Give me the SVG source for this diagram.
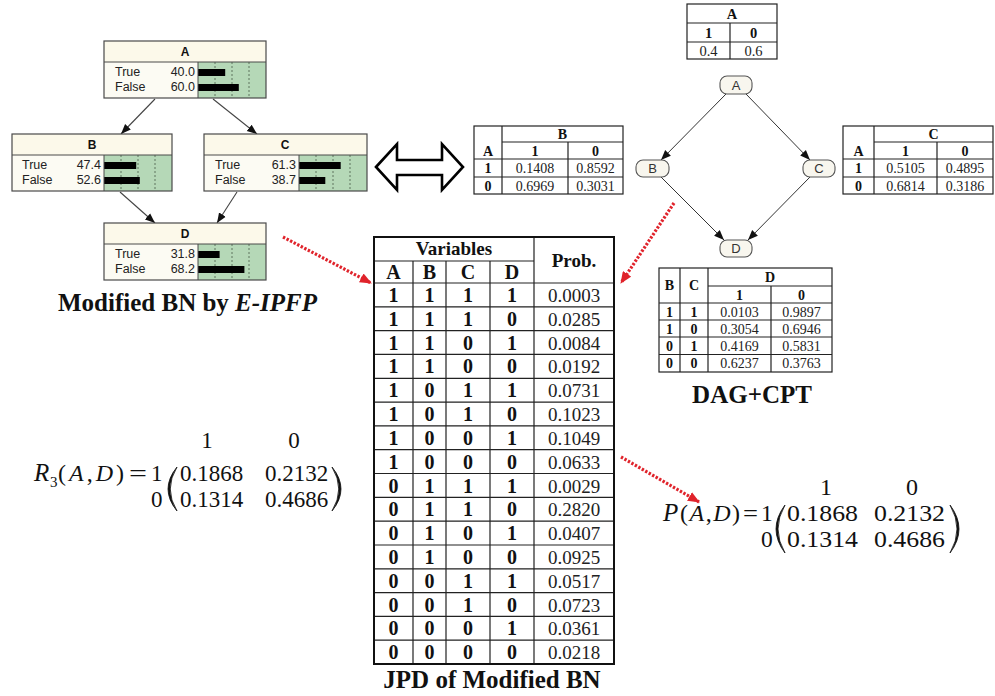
<svg xmlns="http://www.w3.org/2000/svg" width="995" height="696" viewBox="0 0 995 696">
  <style>
    .sans{font-family:"Liberation Sans",Arial,sans-serif}
    .serif{font-family:"Liberation Serif","Times New Roman",serif}
    .nodeHdr{fill:#fcf9ea}
    .nodeBody{fill:#fcfbf3}
    .nodeGreen{fill:#b5d8b7}
    .nodeFrame{fill:none;stroke:#4a4a4a;stroke-width:1.2}
    .tick{stroke:#3a4a3a;stroke-width:1;stroke-dasharray:2 2;opacity:.7}
    .bar{fill:#000}
    .lbl{font-size:12.5px;fill:#222}
    .num{font-size:12.5px;fill:#222;text-anchor:end}
    .ttl{font-size:12px;font-weight:bold;fill:#111;text-anchor:middle}
    .bnEdge{stroke:#444;stroke-width:1.1;fill:none}
    .dagEdge{stroke:#333;stroke-width:1;fill:none}
    .dagNode{fill:#f8f6ee;stroke:#555;stroke-width:1.1}
    .dagTxt{font-size:13px;fill:#333;text-anchor:middle}
    .grid{fill:none;stroke:#222;stroke-width:1.2}
    .outer{fill:none;stroke:#111;stroke-width:2}
    .cb{font-weight:bold;fill:#111;text-anchor:middle}
    .cv{fill:#222;text-anchor:middle}
    .redLink{stroke:#e0232b;stroke-width:3.2;stroke-dasharray:2.4 1.6;fill:none}
    .caption{font-size:25px;font-weight:bold;fill:#111}
    .math{fill:#111}
  </style>
  <defs>
    <marker id="blackHead" viewBox="0 0 10 10" refX="10" refY="5" markerWidth="10" markerHeight="10" markerUnits="userSpaceOnUse" orient="auto">
      <path d="M0,1 L10,5 L0,9 z" fill="#111"/>
    </marker>
    <marker id="redHead" viewBox="0 0 12 10" refX="11" refY="5" markerWidth="12" markerHeight="10" markerUnits="userSpaceOnUse" orient="auto">
      <path d="M0,0 L12,5 L0,10 z" fill="#e0232b"/>
    </marker>
  </defs>

  <rect x="0" y="0" width="995" height="696" fill="#ffffff"/>

  <!-- Belief network (Netica style) -->
  <g id="connectors-bn">
    <line class="bnEdge" x1="155" y1="99" x2="121" y2="134" marker-end="url(#blackHead)"/>
    <line class="bnEdge" x1="213" y1="99" x2="257" y2="134" marker-end="url(#blackHead)"/>
    <line class="bnEdge" x1="120" y1="192" x2="155" y2="223" marker-end="url(#blackHead)"/>
    <line class="bnEdge" x1="237" y1="192" x2="217" y2="223" marker-end="url(#blackHead)"/>
  </g>

  <g id="bn-A" class="sans">
    <rect class="nodeHdr" x="104" y="41" width="162" height="21"/>
    <rect class="nodeBody" x="104" y="62" width="94" height="36"/>
    <rect class="nodeGreen" x="198" y="62" width="68" height="36"/>
    <path class="tick" d="M215,62V98M232,62V98M249,62V98"/>
    <rect class="bar" x="198" y="69" width="27.2" height="7"/>
    <rect class="bar" x="198" y="84" width="40.8" height="7"/>
    <line x1="104" y1="62" x2="266" y2="62" stroke="#4a4a4a" stroke-width="1"/>
    <line x1="198" y1="62" x2="198" y2="98" stroke="#4a4a4a" stroke-width="1"/>
    <rect class="nodeFrame" x="104" y="41" width="162" height="57"/>
    <text class="ttl" x="185" y="56">A</text>
    <text class="lbl" x="115" y="76">True</text><text class="num" x="195" y="76">40.0</text>
    <text class="lbl" x="115" y="91">False</text><text class="num" x="195" y="91">60.0</text>
  </g>

  <g id="bn-B" class="sans">
    <rect class="nodeHdr" x="12" y="134" width="160" height="21"/>
    <rect class="nodeBody" x="12" y="155" width="92" height="36"/>
    <rect class="nodeGreen" x="104" y="155" width="68" height="36"/>
    <path class="tick" d="M121,155V191M138,155V191M155,155V191"/>
    <rect class="bar" x="104" y="162" width="32.2" height="7"/>
    <rect class="bar" x="104" y="177" width="35.8" height="7"/>
    <line x1="12" y1="155" x2="172" y2="155" stroke="#4a4a4a" stroke-width="1"/>
    <line x1="104" y1="155" x2="104" y2="191" stroke="#4a4a4a" stroke-width="1"/>
    <rect class="nodeFrame" x="12" y="134" width="160" height="57"/>
    <text class="ttl" x="92" y="149">B</text>
    <text class="lbl" x="22" y="169">True</text><text class="num" x="101" y="169">47.4</text>
    <text class="lbl" x="22" y="184">False</text><text class="num" x="101" y="184">52.6</text>
  </g>

  <g id="bn-C" class="sans">
    <rect class="nodeHdr" x="204" y="134" width="163" height="21"/>
    <rect class="nodeBody" x="204" y="155" width="95" height="36"/>
    <rect class="nodeGreen" x="299" y="155" width="68" height="36"/>
    <path class="tick" d="M316,155V191M333,155V191M350,155V191"/>
    <rect class="bar" x="299" y="162" width="41.7" height="7"/>
    <rect class="bar" x="299" y="177" width="26.3" height="7"/>
    <line x1="204" y1="155" x2="367" y2="155" stroke="#4a4a4a" stroke-width="1"/>
    <line x1="299" y1="155" x2="299" y2="191" stroke="#4a4a4a" stroke-width="1"/>
    <rect class="nodeFrame" x="204" y="134" width="163" height="57"/>
    <text class="ttl" x="285" y="149">C</text>
    <text class="lbl" x="215" y="169">True</text><text class="num" x="296" y="169">61.3</text>
    <text class="lbl" x="215" y="184">False</text><text class="num" x="296" y="184">38.7</text>
  </g>

  <g id="bn-D" class="sans">
    <rect class="nodeHdr" x="104" y="223" width="162" height="21"/>
    <rect class="nodeBody" x="104" y="244" width="94" height="36"/>
    <rect class="nodeGreen" x="198" y="244" width="68" height="36"/>
    <path class="tick" d="M215,244V280M232,244V280M249,244V280"/>
    <rect class="bar" x="198" y="251" width="21.6" height="7"/>
    <rect class="bar" x="198" y="266" width="46.4" height="7"/>
    <line x1="104" y1="244" x2="266" y2="244" stroke="#4a4a4a" stroke-width="1"/>
    <line x1="198" y1="244" x2="198" y2="280" stroke="#4a4a4a" stroke-width="1"/>
    <rect class="nodeFrame" x="104" y="223" width="162" height="57"/>
    <text class="ttl" x="185" y="238">D</text>
    <text class="lbl" x="115" y="258">True</text><text class="num" x="195" y="258">31.8</text>
    <text class="lbl" x="115" y="273">False</text><text class="num" x="195" y="273">68.2</text>
  </g>

  <text class="serif caption" x="58" y="311">Modified BN by <tspan font-style="italic">E-IPFP</tspan></text>

  <!-- hollow two-way arrow -->
  <g id="equivalence">
    <polygon points="376,167 397,144 397,160 442,160 442,144 463,167 442,190 442,175 397,175 397,190" fill="#ffffff" stroke="#000" stroke-width="2.6" stroke-linejoin="miter"/>
  </g>

  <!-- DAG with CPTs -->
  <g id="connectors-dag">
    <line class="dagEdge" x1="726" y1="94" x2="661" y2="160" marker-end="url(#blackHead)"/>
    <line class="dagEdge" x1="746" y1="94" x2="810" y2="160" marker-end="url(#blackHead)"/>
    <line class="dagEdge" x1="661" y1="177" x2="724" y2="240" marker-end="url(#blackHead)"/>
    <line class="dagEdge" x1="810" y1="177" x2="748" y2="240" marker-end="url(#blackHead)"/>
  </g>

  <g id="dag-A" class="sans">
    <rect class="dagNode" x="720" y="76" width="32" height="18" rx="7"/>
    <text class="dagTxt" x="736" y="90">A</text>
  </g>
  <g id="dag-B" class="sans">
    <rect class="dagNode" x="636" y="160" width="33" height="17" rx="7"/>
    <text class="dagTxt" x="652.5" y="173">B</text>
  </g>
  <g id="dag-C" class="sans">
    <rect class="dagNode" x="803" y="160" width="32" height="17" rx="7"/>
    <text class="dagTxt" x="819" y="173">C</text>
  </g>
  <g id="dag-D" class="sans">
    <rect class="dagNode" x="720" y="240" width="32" height="17" rx="7"/>
    <text class="dagTxt" x="736" y="253">D</text>
  </g>

  <!-- P(A) -->
  <g id="cpt-A" class="serif" font-size="14.5">
    <rect class="grid" x="687" y="4" width="90" height="55"/>
    <path class="grid" d="M687,23H777M687,42H777M730,23V59"/>
    <text class="cb" x="732" y="19">A</text>
    <text class="cb" x="708.5" y="38">1</text>
    <text class="cb" x="753.5" y="38">0</text>
    <text class="cv" x="708.5" y="56">0.4</text>
    <text class="cv" x="753.5" y="56">0.6</text>
  </g>

  <!-- P(B|A) -->
  <g id="cpt-B" class="serif" font-size="14">
    <rect class="grid" x="474" y="126" width="149" height="68"/>
    <path class="grid" d="M502,126V194M568,142V194M502,142H623M474,159H623M474,177H623"/>
    <text class="cb" x="488" y="156">A</text>
    <text class="cb" x="562.5" y="139">B</text>
    <text class="cb" x="535" y="155.5">1</text>
    <text class="cb" x="595.5" y="155.5">0</text>
    <text class="cb" x="488" y="173">1</text>
    <text class="cv" x="535" y="173">0.1408</text>
    <text class="cv" x="595.5" y="173">0.8592</text>
    <text class="cb" x="488" y="190.5">0</text>
    <text class="cv" x="535" y="190.5">0.6969</text>
    <text class="cv" x="595.5" y="190.5">0.3031</text>
  </g>

  <!-- P(C|A) -->
  <g id="cpt-C" class="serif" font-size="14">
    <rect class="grid" x="843" y="126" width="150" height="68"/>
    <path class="grid" d="M874,126V194M937,142V194M874,142H993M843,159H993M843,177H993"/>
    <text class="cb" x="858.5" y="156">A</text>
    <text class="cb" x="933.5" y="139">C</text>
    <text class="cb" x="905.5" y="155.5">1</text>
    <text class="cb" x="965" y="155.5">0</text>
    <text class="cb" x="858.5" y="173">1</text>
    <text class="cv" x="905.5" y="173">0.5105</text>
    <text class="cv" x="965" y="173">0.4895</text>
    <text class="cb" x="858.5" y="190.5">0</text>
    <text class="cv" x="905.5" y="190.5">0.6814</text>
    <text class="cv" x="965" y="190.5">0.3186</text>
  </g>

  <!-- P(D|B,C) -->
  <g id="cpt-D" class="serif" font-size="14">
    <rect class="grid" x="659" y="268" width="173" height="104"/>
    <path class="grid" d="M680,268V372M708,268V372M771,286V372M708,286H832M659,303H832M659,320H832M659,337H832M659,354.5H832"/>
    <text class="cb" x="669.5" y="290">B</text>
    <text class="cb" x="694" y="290">C</text>
    <text class="cb" x="770" y="282">D</text>
    <text class="cb" x="739.5" y="299.5">1</text>
    <text class="cb" x="801.5" y="299.5">0</text>
    <text y="316.5"><tspan class="cb" x="669.5">1</tspan><tspan class="cb" x="694">1</tspan><tspan class="cv" x="739.5">0.0103</tspan><tspan class="cv" x="801.5">0.9897</tspan></text>
    <text y="333.5"><tspan class="cb" x="669.5">1</tspan><tspan class="cb" x="694">0</tspan><tspan class="cv" x="739.5">0.3054</tspan><tspan class="cv" x="801.5">0.6946</tspan></text>
    <text y="350.5"><tspan class="cb" x="669.5">0</tspan><tspan class="cb" x="694">1</tspan><tspan class="cv" x="739.5">0.4169</tspan><tspan class="cv" x="801.5">0.5831</tspan></text>
    <text y="368"><tspan class="cb" x="669.5">0</tspan><tspan class="cb" x="694">0</tspan><tspan class="cv" x="739.5">0.6237</tspan><tspan class="cv" x="801.5">0.3763</tspan></text>
  </g>

  <text class="serif caption" x="752" y="403" text-anchor="middle">DAG+CPT</text>

  <!-- joint probability table -->
  <g id="jpd-table" class="serif">
    <path class="grid" stroke-width="1.4" d="M374,261H534M374,283H614
      M374,306.8H614M374,330.6H614M374,354.4H614M374,378.3H614M374,402.1H614
      M374,425.9H614M374,449.7H614M374,473.5H614M374,497.3H614M374,521.1H614
      M374,545H614M374,568.8H614M374,592.6H614M374,616.4H614M374,640.2H614
      M413,261V664M446,261V664M490,261V664M534,237V664"/>
    <rect class="outer" x="374" y="237" width="240" height="427"/>
    <text class="cb" x="454" y="255" font-size="19">Variables</text>
    <text class="cb" x="574" y="267" font-size="19">Prob.</text>
    <text class="cb" y="279" font-size="20"><tspan x="393.5">A</tspan><tspan x="429.5">B</tspan><tspan x="468">C</tspan><tspan x="512">D</tspan></text>

    <g font-size="20">
      <text class="cb" y="302"><tspan x="393.5">1</tspan><tspan x="429.5">1</tspan><tspan x="468">1</tspan><tspan x="512">1</tspan></text>
      <text class="cb" y="325.8"><tspan x="393.5">1</tspan><tspan x="429.5">1</tspan><tspan x="468">1</tspan><tspan x="512">0</tspan></text>
      <text class="cb" y="349.6"><tspan x="393.5">1</tspan><tspan x="429.5">1</tspan><tspan x="468">0</tspan><tspan x="512">1</tspan></text>
      <text class="cb" y="373.4"><tspan x="393.5">1</tspan><tspan x="429.5">1</tspan><tspan x="468">0</tspan><tspan x="512">0</tspan></text>
      <text class="cb" y="397.3"><tspan x="393.5">1</tspan><tspan x="429.5">0</tspan><tspan x="468">1</tspan><tspan x="512">1</tspan></text>
      <text class="cb" y="421.1"><tspan x="393.5">1</tspan><tspan x="429.5">0</tspan><tspan x="468">1</tspan><tspan x="512">0</tspan></text>
      <text class="cb" y="444.9"><tspan x="393.5">1</tspan><tspan x="429.5">0</tspan><tspan x="468">0</tspan><tspan x="512">1</tspan></text>
      <text class="cb" y="468.7"><tspan x="393.5">1</tspan><tspan x="429.5">0</tspan><tspan x="468">0</tspan><tspan x="512">0</tspan></text>
      <text class="cb" y="492.5"><tspan x="393.5">0</tspan><tspan x="429.5">1</tspan><tspan x="468">1</tspan><tspan x="512">1</tspan></text>
      <text class="cb" y="516.3"><tspan x="393.5">0</tspan><tspan x="429.5">1</tspan><tspan x="468">1</tspan><tspan x="512">0</tspan></text>
      <text class="cb" y="540.1"><tspan x="393.5">0</tspan><tspan x="429.5">1</tspan><tspan x="468">0</tspan><tspan x="512">1</tspan></text>
      <text class="cb" y="563.9"><tspan x="393.5">0</tspan><tspan x="429.5">1</tspan><tspan x="468">0</tspan><tspan x="512">0</tspan></text>
      <text class="cb" y="587.8"><tspan x="393.5">0</tspan><tspan x="429.5">0</tspan><tspan x="468">1</tspan><tspan x="512">1</tspan></text>
      <text class="cb" y="611.6"><tspan x="393.5">0</tspan><tspan x="429.5">0</tspan><tspan x="468">1</tspan><tspan x="512">0</tspan></text>
      <text class="cb" y="635.4"><tspan x="393.5">0</tspan><tspan x="429.5">0</tspan><tspan x="468">0</tspan><tspan x="512">1</tspan></text>
      <text class="cb" y="659.2"><tspan x="393.5">0</tspan><tspan x="429.5">0</tspan><tspan x="468">0</tspan><tspan x="512">0</tspan></text>
    </g>
    <g font-size="19">
      <text class="cv" x="574" y="302">0.0003</text>
      <text class="cv" x="574" y="325.8">0.0285</text>
      <text class="cv" x="574" y="349.6">0.0084</text>
      <text class="cv" x="574" y="373.4">0.0192</text>
      <text class="cv" x="574" y="397.3">0.0731</text>
      <text class="cv" x="574" y="421.1">0.1023</text>
      <text class="cv" x="574" y="444.9">0.1049</text>
      <text class="cv" x="574" y="468.7">0.0633</text>
      <text class="cv" x="574" y="492.5">0.0029</text>
      <text class="cv" x="574" y="516.3">0.2820</text>
      <text class="cv" x="574" y="540.1">0.0407</text>
      <text class="cv" x="574" y="563.9">0.0925</text>
      <text class="cv" x="574" y="587.8">0.0517</text>
      <text class="cv" x="574" y="611.6">0.0723</text>
      <text class="cv" x="574" y="635.4">0.0361</text>
      <text class="cv" x="574" y="659.2">0.0218</text>
    </g>
  </g>

  <text class="serif caption" x="492" y="688" text-anchor="middle">JPD of Modified BN</text>

  <!-- dotted red links -->
  <g id="connectors-red">
    <line class="redLink" x1="283" y1="237" x2="371" y2="283" marker-end="url(#redHead)"/>
    <line class="redLink" x1="674" y1="203" x2="621" y2="283" marker-end="url(#redHead)"/>
    <line class="redLink" x1="621" y1="457" x2="699" y2="502" marker-end="url(#redHead)"/>
  </g>

  <!-- R3(A,D) matrix -->
  <g id="matrix-R3" class="serif math">
    <text x="207" y="448" font-size="23" text-anchor="middle">1</text>
    <text x="294" y="448" font-size="23" text-anchor="middle">0</text>
    <text x="34" y="481" font-size="25" font-style="italic">R</text>
    <text x="50" y="487" font-size="15">3</text>
    <text x="58" y="481" font-size="24" textLength="66" lengthAdjust="spacing">(<tspan font-style="italic">A</tspan>,<tspan font-style="italic">D</tspan>)</text>
    <text x="129" y="481" font-size="24" textLength="18" lengthAdjust="spacingAndGlyphs">=</text>
    <text x="151" y="481" font-size="23">1</text>
    <text x="151" y="507" font-size="23">0</text>
    <path d="M177,467 Q159,489 177,511 Q163.5,489 177,467 Z" fill="#111" stroke="#111" stroke-width="0.8"/>
    <text x="180" y="481" font-size="23">0.1868</text>
    <text x="265" y="481" font-size="23">0.2132</text>
    <text x="180" y="507" font-size="23">0.1314</text>
    <text x="265" y="507" font-size="23">0.4686</text>
    <path d="M332,467 Q350,489 332,511 Q345.5,489 332,467 Z" fill="#111" stroke="#111" stroke-width="0.8"/>
  </g>

  <!-- P(A,D) matrix -->
  <g id="matrix-P" class="serif math">
    <text x="826" y="495" font-size="24" text-anchor="middle">1</text>
    <text x="912" y="495" font-size="24" text-anchor="middle">0</text>
    <text x="663" y="521" font-size="25" font-style="italic">P</text>
    <text x="680" y="521" font-size="24" textLength="60" lengthAdjust="spacing">(<tspan font-style="italic">A</tspan>,<tspan font-style="italic">D</tspan>)</text>
    <text x="743" y="521" font-size="24" textLength="15" lengthAdjust="spacingAndGlyphs">=</text>
    <text x="761" y="521" font-size="23.5">1</text>
    <text x="761" y="547" font-size="23.5">0</text>
    <path d="M785,505 Q767,529 785,553 Q771,529 785,505 Z" fill="#111" stroke="#111" stroke-width="0.8"/>
    <text x="787" y="521" font-size="23.5" textLength="71" lengthAdjust="spacingAndGlyphs">0.1868</text>
    <text x="874" y="521" font-size="23.5" textLength="71" lengthAdjust="spacingAndGlyphs">0.2132</text>
    <text x="787" y="547" font-size="23.5" textLength="71" lengthAdjust="spacingAndGlyphs">0.1314</text>
    <text x="874" y="547" font-size="23.5" textLength="71" lengthAdjust="spacingAndGlyphs">0.4686</text>
    <path d="M950,505 Q968,529 950,553 Q964,529 950,505 Z" fill="#111" stroke="#111" stroke-width="0.8"/>
  </g>
</svg>
